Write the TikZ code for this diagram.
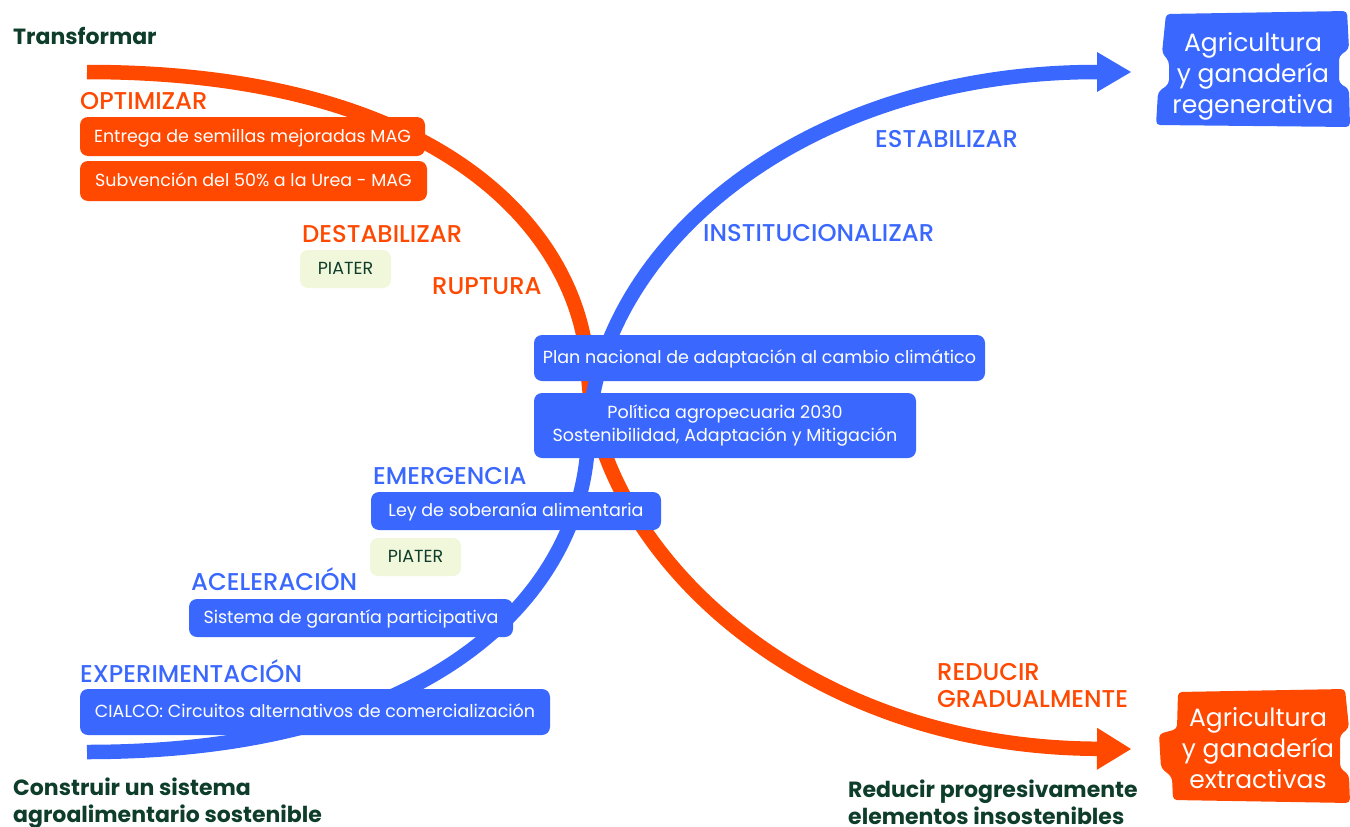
\documentclass[tikz,border=0pt]{standalone}
\usepackage{fontspec}
\setmainfont{Poppins}
\newfontfamily\labfont{Poppins Medium}
\usetikzlibrary{arrows.meta}
\definecolor{myor}{HTML}{FF4800}
\definecolor{myblue}{HTML}{3A68FF}
\definecolor{dgreen}{HTML}{0F3D2B}
\definecolor{lgreen}{HTML}{F0F7DB}
\newcommand{\fsz}[2]{\fontsize{#1}{#2}\selectfont}
\tikzset{
  flowline/.style={line width=14.5pt},
  boxbase/.style={rounded corners=8pt, inner sep=0pt, outer sep=0pt, anchor=north west, font=\fsz{17.5pt}{23pt}, align=center},
  oneline/.style={text height=14pt, text depth=3pt},
  obox/.style={boxbase, fill=myor, text=white},
  bbox/.style={boxbase, fill=myblue, text=white},
  gbox/.style={boxbase, fill=lgreen, text=dgreen},
  phase/.style={anchor=base west, inner sep=0pt, font=\labfont\fsz{24.3pt}{27pt}},
  olab/.style={phase, text=myor},
  blab/.style={phase, text=myblue},
  head/.style={inner sep=0pt, text=dgreen, font=\fsz{22pt}{26.5pt}\bfseries, align=left},
  ticket/.style={rounded corners=4pt},
  tickettext/.style={inner sep=0pt, text=white, font=\fsz{25pt}{31pt}, align=center}
}
\begin{document}
\begin{tikzpicture}[x=1pt,y=-1pt]
\useasboundingbox (0,0) rectangle (1350,827);

% curves
\coordinate (oS) at (87,72);
\coordinate (oM) at (588,370);
\coordinate (oE) at (1131,749);
\coordinate (bS) at (87,752);
\coordinate (bM) at (588,440);
\coordinate (bE) at (1131,72);
\draw[flowline, myor, -{Triangle[length=34pt,width=42pt,line width=0pt]}]
  (oS) .. controls (440,72) and (580,230) .. (oM)
       .. controls (593,540) and (790,747) .. (oE);
\draw[flowline, myblue, -{Triangle[length=34pt,width=40pt,line width=0pt]}]
  (bS) .. controls (440,752) and (583,590) .. (bM)
       .. controls (593,250) and (800,72) .. (bE);

% end tickets
\fill[myblue, ticket] (1166,14) -- (1347,11) -- (1349,49) -- (1339,56) -- (1339,83) -- (1349,89)
  -- (1350,127) -- (1156,125) -- (1158,92) -- (1169,84) -- (1169,61) -- (1162,53) -- cycle;
\node[tickettext] (regen) at (1253,76) {Agricultura\\y ganadería\\regenerativa};
\fill[myor, ticket] (1178,692) -- (1345,689) -- (1349,728) -- (1340,735) -- (1340,768) -- (1349,775)
  -- (1350,803) -- (1173,800) -- (1172,777) -- (1161,768) -- (1159,734) -- (1177,729) -- cycle;
\node[tickettext] (extr) at (1258,748) {Agricultura\\y ganadería\\extractivas};

% headings
\node[head, anchor=base west] (transf) at (13,45) {Transformar};
\node[head, anchor=north west] (constr) at (13,778) {Construir un sistema\\agroalimentario sostenible};
\node[head, anchor=north west] (reduc) at (848,780) {Reducir progresivamente\\elementos insostenibles};

% phase labels
\node[olab] (optim) at (80,109) {OPTIMIZAR};
\node[olab] (desta) at (302,242) {DESTABILIZAR};
\node[olab] (ruptu) at (432,294) {RUPTURA};
\node[olab, align=left, anchor=north west] (redgr) at (937,663) {REDUCIR\\GRADUALMENTE};
\node[blab] (estab) at (875,147) {ESTABILIZAR};
\node[blab] (insti) at (703,241) {INSTITUCIONALIZAR};
\node[blab] (emerg) at (373,484) {EMERGENCIA};
\node[blab] (acele) at (191,590) {ACELERACIÓN};
\node[blab] (exper) at (80,682) {EXPERIMENTACIÓN};

% boxes
\node[obox, oneline, minimum width=345pt, minimum height=39pt] (semil) at (80,117) {Entrega de semillas mejoradas MAG};
\node[obox, oneline, minimum width=347pt, minimum height=40pt] (urea) at (80,161) {Subvención del 50\% a la Urea - MAG};
\node[gbox, oneline, minimum width=91pt, minimum height=38pt] (piat1) at (300,250) {PIATER};
\node[bbox, oneline, minimum width=451pt, minimum height=46pt] (plan) at (534,335) {Plan nacional de adaptación al cambio climático};
\node[bbox, minimum width=382pt, minimum height=65pt] (polit) at (534,393) {Política agropecuaria 2030\\Sostenibilidad, Adaptación y Mitigación};
\node[bbox, oneline, minimum width=290pt, minimum height=38pt] (ley) at (371,492) {Ley de soberanía alimentaria};
\node[gbox, oneline, minimum width=91pt, minimum height=38pt] (piat2) at (370,538) {PIATER};
\node[bbox, oneline, minimum width=324pt, minimum height=38pt] (siste) at (189,599) {Sistema de garantía participativa};
\node[bbox, oneline, minimum width=470pt, minimum height=46pt] (cialc) at (80,689) {CIALCO: Circuitos alternativos de comercialización};
\end{tikzpicture}
\end{document}
